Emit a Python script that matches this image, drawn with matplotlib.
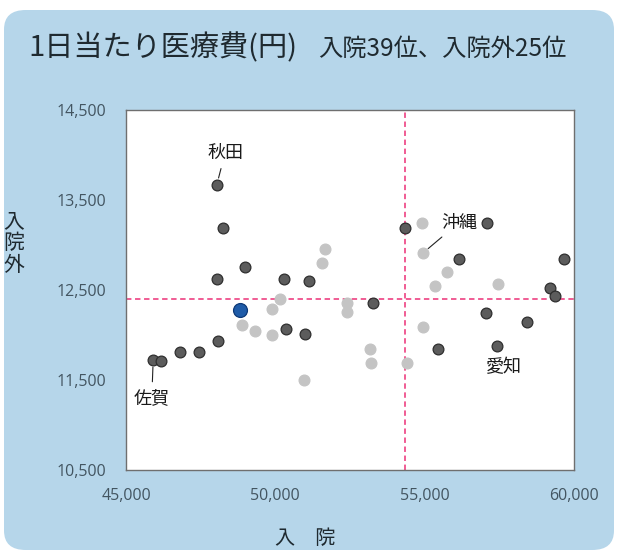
import matplotlib
matplotlib.use('Agg')
import matplotlib.pyplot as plt
from matplotlib.patches import FancyBboxPatch

plt.rcParams['font.family'] = ['Noto Sans CJK JP', 'DejaVu Sans']

# ---- data ----
inpatient = [48040, 48240, 48980, 48040, 50290, 51140, 51660, 51550, 50160, 49890,
             48820, 48870, 49320, 49880, 50350, 50980, 48090, 47450, 46810, 45910,
             46160, 50960, 52390, 52390, 53270, 53170, 53190, 54340, 54900, 54940,
             57090, 56150, 55740, 55350, 57460, 59650, 59200, 59360, 57050, 58430,
             54940, 55460, 57430, 54400]
outpatient = [13670, 13190, 12760, 12620, 12620, 12600, 12960, 12800, 12400, 12290,
              12280, 12110, 12040, 12000, 12070, 12010, 11930, 11810, 11810, 11720,
              11710, 11500, 12360, 12260, 12360, 11850, 11690, 13190, 13240, 12910,
              13240, 12840, 12700, 12540, 12570, 12850, 12520, 12430, 12250, 12150,
              12090, 11840, 11880, 11690]
# d = dark point, l = light point, h = highlighted prefecture
shade = ['d', 'd', 'd', 'd', 'd', 'd', 'l', 'l', 'l', 'l',
         'h', 'l', 'l', 'l', 'd', 'd', 'd', 'd', 'd', 'd',
         'd', 'l', 'l', 'l', 'd', 'l', 'l', 'd', 'l', 'l',
         'd', 'd', 'l', 'l', 'l', 'd', 'd', 'd', 'd', 'd',
         'l', 'd', 'd', 'l']
avg_inpatient = 54340
avg_outpatient = 12405

label_names = ['秋田', '沖縄', '愛知', '佐賀']
label_point = [0, 29, 42, 19]
label_has_line = [True, True, False, True]

x_ticks = [45000, 50000, 55000, 60000]
y_ticks = [10500, 11500, 12500, 13500, 14500]

title_main = '1日当たり医療費(円)'
title_sub = '入院39位、入院外25位'
x_label = '入　院'
y_label = '入院外'

# ---- figure ----
W, H = 620, 554
fig = plt.figure(figsize=(W / 100, H / 100), dpi=100)
fig.patch.set_facecolor('white')

def fx(px):
    return px / W

def fy(py):
    return 1 - py / H

panel = FancyBboxPatch((fx(4), fy(550)), fx(610), (540) / H,
                       boxstyle='round,pad=0,rounding_size=0.035',
                       transform=fig.transFigure, facecolor='#b6d6ea',
                       edgecolor='none', zorder=-10)
fig.patches.append(panel)

ax = fig.add_axes([fx(126), fy(470), fx(448), 360 / H])
ax.set_zorder(1)
ax.set_facecolor('white')
for s in ax.spines.values():
    s.set_color('#6f6f6f')
    s.set_linewidth(1.0)

colors = {'d': '#5c5c5c', 'l': '#c4c4c4', 'h': '#1f5ca8'}
edges = {'d': '#2e2e2e', 'l': '#c4c4c4', 'h': '#0e3a78'}
zord = {'d': 3, 'l': 3, 'h': 5}
for x, y, s in zip(inpatient, outpatient, shade):
    ax.scatter([x], [y], s=100 if s == 'h' else 60, c=colors[s], edgecolors=edges[s],
               linewidths=0.9, zorder=zord[s])

ax.axvline(avg_inpatient, color='#ef4f8b', lw=1.3, ls=(0, (3, 2)), zorder=2)
ax.axhline(avg_outpatient, color='#ef4f8b', lw=1.3, ls=(0, (3, 2)), zorder=2)

ax.set_xlim(45000, 60000)
ax.set_ylim(10500, 14500)
ax.set_xticks(x_ticks)
ax.set_yticks(y_ticks)
ax.set_xticklabels([f'{v:,}' for v in x_ticks])
ax.set_yticklabels([f'{v:,}' for v in y_ticks])
ax.tick_params(length=0, labelcolor='#435561')
ax.tick_params(axis='y', pad=14)
ax.tick_params(axis='x', pad=13)
for lab in ax.get_xticklabels() + ax.get_yticklabels():
    lab.set_fontfamily(['Open Sans', 'DejaVu Sans'])
    lab.set_fontsize(11.5)

# label offsets in points (layout)
offsets = [(6, 23), (26, 22), (5, -15), (-1, -27)]
for name, idx, has_line, off in zip(label_names, label_point, label_has_line, offsets):
    xy = (inpatient[idx], outpatient[idx])
    kw = dict(arrowprops=dict(arrowstyle='-', color='#222222', lw=0.8,
                              shrinkA=3, shrinkB=5)) if has_line else {}
    ax.annotate(name, xy=xy, xytext=off, textcoords='offset points',
                ha='center', va='center', fontsize=13, color='#1a1a1a',
                zorder=6, **kw)

fig.text(fx(28), fy(48), title_main, fontsize=21, color='#1f2a30',
         ha='left', va='center')
fig.text(fx(318), fy(49), title_sub, fontsize=17.5, color='#1f2a30',
         ha='left', va='center')
fig.text(fx(305), fy(538), x_label, fontsize=14.5, color='#1f2a30',
         ha='center', va='center')
fig.text(fx(14), fy(243), '\n'.join(y_label), fontsize=15, color='#1f2a30',
         ha='center', va='center', linespacing=1.0)

fig.savefig('out.png', dpi=100, facecolor='white')
